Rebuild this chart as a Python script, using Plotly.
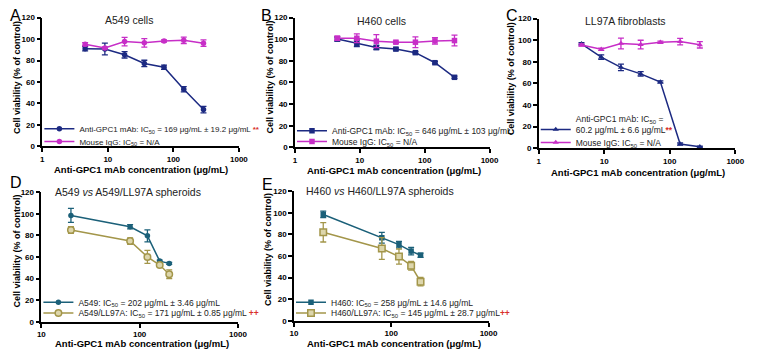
import plotly.graph_objects as go

# ---------------- data ----------------
doses_cells = [4.5, 9, 18, 36, 72, 144, 288]
doses_sph = [20, 80, 120, 160, 200]

a549_gpc1 = [91.1, 90.8, 85.4, 77.3, 73.7, 53.2, 34.3]
a549_gpc1_err = [2, 5.5, 3, 3, 2, 2.5, 3]
a549_igg = [95.3, 91.7, 97.7, 96.5, 98.3, 98.9, 96.2]
a549_igg_err = [1.5, 1, 4, 4, 1, 3, 3]

h460_gpc1 = [100.2, 96.3, 92.4, 90.9, 87.6, 78.3, 64.8]
h460_gpc1_err = [2, 3, 2, 1, 1, 1, 1]
h460_igg = [100.9, 100.9, 98.2, 97.3, 97.3, 98.5, 98.8]
h460_igg_err = [2, 4, 6, 1, 5, 3, 5]

ll97a_gpc1 = [96.7, 84.4, 74.9, 68.9, 61.4, 3.9, 1.5]
ll97a_gpc1_err = [1, 2, 3, 2, 1, 1, 0.5]
ll97a_igg = [95.5, 91.6, 97.0, 96.0, 98.2, 98.8, 95.8]
ll97a_igg_err = [1, 1, 5, 4, 1, 3, 3]

a549_sph = [98.5, 88.0, 79.6, 56.2, 54.1]
a549_sph_err = [6.5, 2, 5.5, 1, 1]
a549_ll_sph = [85.0, 74.8, 60.1, 52.6, 44.1]
a549_ll_sph_err = [3, 3, 6, 1, 4]

h460_sph = [98.5, 76.9, 70.6, 64.6, 60.7]
h460_sph_err = [3, 5, 3, 3.5, 2]
h460_ll_sph = [82.0, 67.0, 59.5, 51.0, 36.3]
h460_ll_sph_err = [9, 10, 7, 4, 4]

x_ticks_cells = [1, 10, 100, 1000]
x_ticks_sph = [10, 100, 1000]
y_ticks = [0, 20, 40, 60, 80, 100, 120]

panel_titles = ["A549 cells", "H460 cells", "LL97A fibroblasts",
                "A549 <i>vs</i> A549/LL97A spheroids",
                "H460 <i>vs</i> H460/LL97A spheroids"]
panel_letters = ["A", "B", "C", "D", "E"]

RED = "#d9302a"
PAD = "&nbsp;&nbsp;&nbsp;"
star = lambda s: f"<span style='color:{RED}'><b>{s}</b></span>"
names = {
    "a_g": "Anti-GPC1 mAb: IC<sub>50</sub> = 169 μg/mL ± 19.2 μg/mL " + star("**") + PAD,
    "a_i": "Mouse IgG: IC<sub>50</sub> = N/A",
    "b_g": "Anti-GPC1 mAb: IC<sub>50</sub> = 646 μg/mL ± 103 μg/mL",
    "b_i": "Mouse IgG: IC<sub>50</sub> = N/A",
    "c_g": "Anti-GPC1 mAb: IC<sub>50</sub> =<br>60.2 μg/mL ± 6.6 μg/mL" + star("**") + PAD,
    "c_i": "Mouse IgG: IC<sub>50</sub> = N/A",
    "d_1": "A549: IC<sub>50</sub> = 202 μg/mL ± 3.46 μg/mL",
    "d_2": "A549/LL97A: IC<sub>50</sub> = 171 μg/mL ± 0.85 μg/mL " + star("++") + PAD,
    "e_1": "H460: IC<sub>50</sub> = 258 μg/mL ± 14.6 μg/mL",
    "e_2": "H460/LL97A: IC<sub>50</sub> = 145 μg/mL ± 28.7 μg/mL" + star("++") + PAD,
}

NAVY = "#1c2a82"
MAG = "#c72ec7"
TEAL = "#1b6079"
OLIVE = "#a3964a"
OLIVE_FILL = "#ddd6ac"
FONT = "Liberation Sans, Arial, sans-serif"

W, H = 760, 360

fig = go.Figure()


def add(x, y, err, color, symbol, name, xa, ya, legend, fill=None, size=5.5):
    fig.add_trace(go.Scatter(
        x=x, y=y, mode="lines+markers", name=name,
        xaxis=xa, yaxis=ya, legend=legend, showlegend=True,
        line=dict(color=color, width=1.5),
        marker=dict(symbol=symbol, size=size, color=fill if fill else color,
                    line=dict(color=color, width=1.5 if fill else 0)),
        error_y=dict(type="data", array=err, color=color, thickness=1.3, width=3),
        cliponaxis=False,
    ))


add(doses_cells, a549_gpc1, a549_gpc1_err, NAVY, "circle", names["a_g"], "x", "y", "legend")
add(doses_cells, a549_igg, a549_igg_err, MAG, "circle", names["a_i"], "x", "y", "legend2")
add(doses_cells, h460_gpc1, h460_gpc1_err, NAVY, "square", names["b_g"], "x2", "y2", "legend3")
add(doses_cells, h460_igg, h460_igg_err, MAG, "square", names["b_i"], "x2", "y2", "legend4")
add(doses_cells, ll97a_gpc1, ll97a_gpc1_err, NAVY, "triangle-up", names["c_g"], "x3", "y3", "legend5")
add(doses_cells, ll97a_igg, ll97a_igg_err, MAG, "triangle-up", names["c_i"], "x3", "y3", "legend6")
add(doses_sph, a549_sph, a549_sph_err, TEAL, "circle", names["d_1"], "x4", "y4", "legend7")
add(doses_sph, a549_ll_sph, a549_ll_sph_err, OLIVE, "circle", names["d_2"], "x4", "y4", "legend8",
    fill=OLIVE_FILL, size=6.5)
add(doses_sph, h460_sph, h460_sph_err, TEAL, "square", names["e_1"], "x5", "y5", "legend9")
add(doses_sph, h460_ll_sph, h460_ll_sph_err, OLIVE, "square", names["e_2"], "x5", "y5", "legend10",
    fill=OLIVE_FILL, size=6.5)

# panel boxes in pixels: (left, right, top, bottom)
boxes = [(39, 239, 14, 146), (296, 494, 14, 147), (544, 744, 15, 148),
         (38, 238, 193, 326), (295, 493, 192, 325)]


def px_x(p):
    return p / W


def px_y(p):
    return 1 - p / H


layout = dict(width=W, height=H, margin=dict(l=0, r=0, t=0, b=0),
              paper_bgcolor="white", plot_bgcolor="white", autosize=False,
              showlegend=True,
              font=dict(family=FONT, color="black"))

for i, (l, r, t, b) in enumerate(boxes):
    k = "" if i == 0 else str(i + 1)
    xt = x_ticks_cells if i < 3 else x_ticks_sph
    rng = [0, 3] if i < 3 else [1, 3]
    layout["xaxis" + k] = dict(
        domain=[px_x(l), px_x(r)], type="log", range=rng,
        tickvals=xt, ticktext=[str(v) for v in xt],
        showline=True, linecolor="black", linewidth=1.5,
        ticks="outside", ticklen=4, tickwidth=1.5, tickcolor="black",
        showgrid=False, zeroline=False, anchor="y" + k,
        tickfont=dict(size=8, family=FONT, color="black", weight="bold"),
    )
    layout["yaxis" + k] = dict(
        domain=[px_y(b), px_y(t)], range=[0, 120],
        tickvals=y_ticks, ticktext=[str(v) for v in y_ticks],
        showline=True, linecolor="black", linewidth=1.5,
        ticks="outside", ticklen=4, tickwidth=1.5, tickcolor="black",
        showgrid=False, zeroline=False, anchor="x" + k,
        tickfont=dict(size=8, family=FONT, color="black", weight="bold"),
    )

# legends: (left px, center y px, font size)
legend_pos = [(36, 128, 8), (36, 141, 8), (293, 130, 8.5), (293, 141, 8.5),
              (541, 123.5, 8.5), (541, 142, 8.5),
              (35, 306, 8.5), (35, 317, 8.5), (292, 306, 8.5), (292, 317, 8.5)]
for j, (lx, cy, fs) in enumerate(legend_pos):
    key = "legend" if j == 0 else f"legend{j + 1}"
    layout[key] = dict(
        x=px_x(lx), y=px_y(cy), xanchor="left", yanchor="middle",
        bgcolor="rgba(0,0,0,0)", borderwidth=0, visible=True,
        font=dict(size=fs, family=FONT, color="#222"),
        valign="bottom" if j == 4 else "middle",
        xref="paper", yref="paper",
    )

fig.update_layout(**layout)

ann = []
# titles
title_pos = [(127, 16), (384, 17), (632, 17), (126, 193), (383, 192)]
for txt, (cx, cy) in zip(panel_titles, title_pos):
    ann.append(dict(text=txt, x=px_x(cx), y=px_y(cy), xref="paper", yref="paper",
                    showarrow=False, xanchor="center", yanchor="middle",
                    font=dict(size=10.5, family=FONT, color="#222")))
# letters
letter_pos = [(12, 12), (267, 12), (517, 12), (12, 183), (268, 185)]
for txt, (cx, cy) in zip(panel_letters, letter_pos):
    ann.append(dict(text=txt, x=px_x(cx), y=px_y(cy), xref="paper", yref="paper",
                    showarrow=False, xanchor="center", yanchor="middle",
                    font=dict(size=16, family=FONT, color="black")))
# y titles
ytitle_pos = [(13, 75), (271, 75), (516, 77), (13, 253), (268, 252)]
for (cx, cy) in ytitle_pos:
    ann.append(dict(text="Cell viability (% of control)", x=px_x(cx), y=px_y(cy),
                    xref="paper", yref="paper", showarrow=False, textangle=-90,
                    xanchor="center", yanchor="middle",
                    font=dict(size=9, family=FONT, color="black", weight="bold")))
# x titles
xtitle_pos = [(139, 170), (397, 171), (645, 173), (140, 348), (397, 348)]
for (cx, cy) in xtitle_pos:
    ann.append(dict(text="Anti-GPC1 mAb concentration (μg/mL)", x=px_x(cx), y=px_y(cy),
                    xref="paper", yref="paper", showarrow=False,
                    xanchor="center", yanchor="middle",
                    font=dict(size=9.5, family=FONT, color="black", weight="bold")))

fig.update_layout(annotations=ann)
fig.write_html("out.html")
